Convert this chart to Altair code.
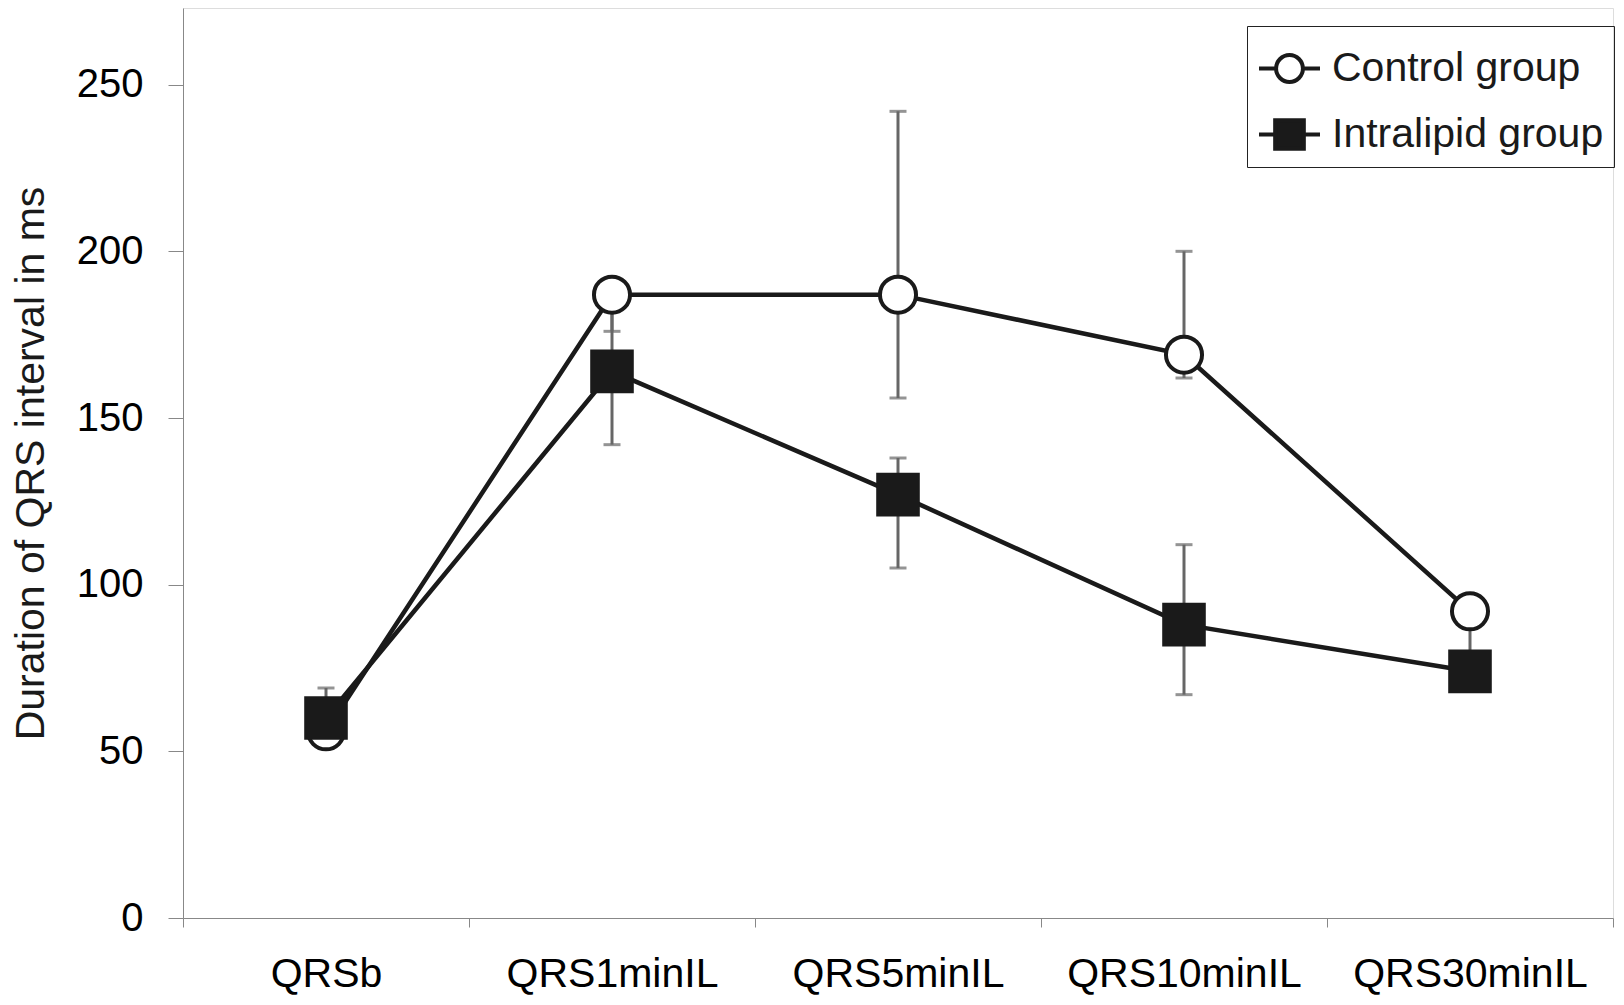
import altair as alt
import pandas as pd

categories = ["QRSb", "QRS1minIL", "QRS5minIL", "QRS10minIL", "QRS30minIL"]
groups = ["Control group", "Intralipid group"]

control_mean = [56, 187, 187, 169, 92]
control_low = [56, 176, 156, 162, 78]
control_high = [56, 187, 242, 200, 92]

intralipid_mean = [60, 164, 127, 88, 74]
intralipid_low = [51, 142, 105, 67, 74]
intralipid_high = [69, 186, 138, 112, 74]

y_ticks = [0, 50, 100, 150, 200, 250]

rows = []
for g, means, lows, highs in [
    (groups[0], control_mean, control_low, control_high),
    (groups[1], intralipid_mean, intralipid_low, intralipid_high),
]:
    for c, m, lo, hi in zip(categories, means, lows, highs):
        rows.append({"time": c, "group": g, "mean": m, "low": lo, "high": hi})
df = pd.DataFrame(rows)
df_legend = pd.DataFrame({"group": groups})

FONT = "Liberation Sans"
INK = "#1a1a1a"
AXIS_GRAY = "#707070"
ERR_GRAY = "#666666"

x_enc = alt.X(
    "time:N",
    sort=categories,
    scale=alt.Scale(type="band", domain=categories, paddingInner=0, paddingOuter=0),
    axis=alt.Axis(
        title=None, labelAngle=0, tickBand="extent", tickSize=9,
        labelPadding=47, labelFontSize=41, labelBaseline="middle", labelLimit=400,
        grid=False,
    ),
)
y_scale = alt.Scale(domain=[0, 273], nice=False, zero=True)
y_axis = alt.Axis(
    values=y_ticks, title="Duration of QRS interval in ms", grid=False,
    titleFontSize=41, titleFont=FONT, titleFontWeight="normal", titleColor=INK,
    titleAngle=270, titleX=-152, titleY=455, titleAlign="center", titleBaseline="middle",
    tickSize=15, labelPadding=25, labelFontSize=40,
)

base = alt.Chart(df)

rules = base.mark_rule(color=ERR_GRAY, strokeWidth=3).encode(
    x=x_enc,
    y=alt.Y("low:Q", scale=y_scale, axis=y_axis),
    y2="high:Q",
)
caps_low = base.mark_tick(color=ERR_GRAY, thickness=3, size=17, orient="horizontal").encode(
    x=x_enc, y=alt.Y("low:Q", scale=y_scale, axis=y_axis)
)
caps_high = base.mark_tick(color=ERR_GRAY, thickness=3, size=17, orient="horizontal").encode(
    x=x_enc, y=alt.Y("high:Q", scale=y_scale, axis=y_axis)
)
lines = base.mark_line(color=INK, strokeWidth=4.5).encode(
    x=x_enc, y=alt.Y("mean:Q", scale=y_scale, axis=y_axis), detail="group:N"
)
circles = base.transform_filter(alt.datum.group == groups[0]).mark_point(
    shape="circle", size=1300, fill="white", fillOpacity=1, stroke=INK, strokeWidth=4, opacity=1
).encode(x=x_enc, y=alt.Y("mean:Q", scale=y_scale, axis=y_axis))
squares = base.transform_filter(alt.datum.group == groups[1]).mark_point(
    shape="square", size=1900, filled=True, color=INK, opacity=1
).encode(x=x_enc, y=alt.Y("mean:Q", scale=y_scale, axis=y_axis))

path_control = "M-1,0L-0.44,0M0.44,0L1,0M0.44,0A0.44,0.44,0,1,1,-0.44,0A0.44,0.44,0,1,1,0.44,0Z"
path_intra = "M-1,0L-0.47,0M0.47,0L1,0M-0.47,-0.47L0.47,-0.47L0.47,0.47L-0.47,0.47Z"

leg = alt.Legend(
    title=None, orient="none", legendX=1064, legendY=18,
    symbolSize=3721, symbolStrokeWidth=4, symbolStrokeColor=INK,
    labelFont=FONT, labelFontSize=41, labelColor=INK, labelOffset=10, labelLimit=500,
    padding=10, rowPadding=12, strokeColor="#222222",
)
legend_layer = alt.Chart(df_legend).mark_point(
    clip=True, strokeWidth=4, opacity=1
).encode(
    x=alt.value(-3000),
    y=alt.value(-3000),
    shape=alt.Shape("group:N", scale=alt.Scale(domain=groups, range=[path_control, path_intra]), legend=leg),
    fill=alt.Fill("group:N", scale=alt.Scale(domain=groups, range=["white", INK]), legend=leg),
    stroke=alt.Stroke("group:N", scale=alt.Scale(domain=groups, range=[INK, INK]), legend=leg),
)

chart = alt.layer(rules, caps_low, caps_high, lines, circles, squares, legend_layer).properties(
    width=1430,
    height=910,
    autosize=alt.AutoSizeParams(type="none"),
    padding={"left": 175, "top": 0, "right": 3, "bottom": 80},
).configure_view(stroke=None).configure_axis(
    domainColor=AXIS_GRAY, domainWidth=3.5, tickColor=AXIS_GRAY, tickWidth=3,
    labelFont=FONT, labelColor=INK, grid=False,
).configure_legend(strokeWidth=3).configure(background="white")

chart.save("out.html", embed_options={"renderer": "svg", "actions": False})
